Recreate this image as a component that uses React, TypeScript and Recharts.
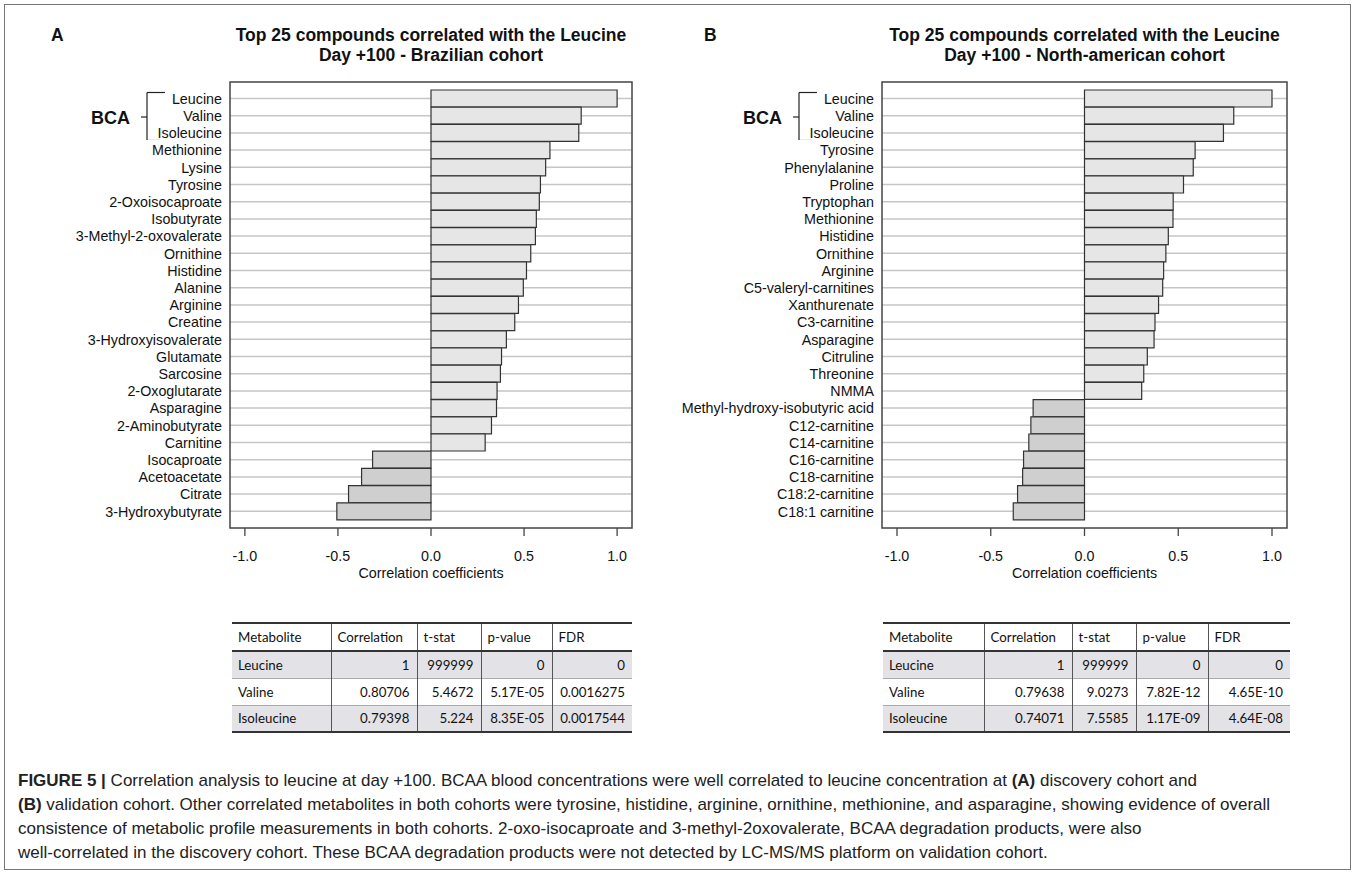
import React from "react";
import { BarChart, Bar, XAxis, YAxis, Cell } from "recharts";

const brazilNames = [
  "Leucine", "Valine", "Isoleucine", "Methionine", "Lysine", "Tyrosine",
  "2-Oxoisocaproate", "Isobutyrate", "3-Methyl-2-oxovalerate", "Ornithine",
  "Histidine", "Alanine", "Arginine", "Creatine", "3-Hydroxyisovalerate",
  "Glutamate", "Sarcosine", "2-Oxoglutarate", "Asparagine", "2-Aminobutyrate",
  "Carnitine", "Isocaproate", "Acetoacetate", "Citrate", "3-Hydroxybutyrate",
];
const brazilValues = [
  1.0, 0.807, 0.794, 0.639, 0.616, 0.588, 0.582, 0.566, 0.561, 0.536,
  0.513, 0.496, 0.47, 0.45, 0.405, 0.379, 0.373, 0.355, 0.352, 0.325,
  0.291, -0.314, -0.373, -0.443, -0.506,
];

const naNames = [
  "Leucine", "Valine", "Isoleucine", "Tyrosine", "Phenylalanine", "Proline",
  "Tryptophan", "Methionine", "Histidine", "Ornithine", "Arginine",
  "C5-valeryl-carnitines", "Xanthurenate", "C3-carnitine", "Asparagine",
  "Citruline", "Threonine", "NMMA", "Methyl-hydroxy-isobutyric acid",
  "C12-carnitine", "C14-carnitine", "C16-carnitine", "C18-carnitine",
  "C18:2-carnitine", "C18:1 carnitine",
];
const naValues = [
  1.0, 0.796, 0.741, 0.59, 0.58, 0.528, 0.473, 0.472, 0.447, 0.434, 0.422,
  0.417, 0.395, 0.376, 0.371, 0.335, 0.316, 0.305, -0.274, -0.286, -0.297,
  -0.325, -0.33, -0.357, -0.38,
];

const xTicks = [-1, -0.5, 0, 0.5, 1];

const tableHeader = ["Metabolite", "Correlation", "t-stat", "p-value", "FDR"];
const brazilTable = [
  ["Leucine", "1", "999999", "0", "0"],
  ["Valine", "0.80706", "5.4672", "5.17E-05", "0.0016275"],
  ["Isoleucine", "0.79398", "5.224", "8.35E-05", "0.0017544"],
];
const naTable = [
  ["Leucine", "1", "999999", "0", "0"],
  ["Valine", "0.79638", "9.0273", "7.82E-12", "4.65E-10"],
  ["Isoleucine", "0.74071", "7.5585", "1.17E-09", "4.64E-08"],
];

const FONT = "'Liberation Sans', Arial, Helvetica, sans-serif";
const DOMAIN: [number, number] = [-1.08, 1.08];
const AXIS = "#444";
const LABEL = 14.3;
const PLOT_TOP = 82;
const PLOT_H = 446;

// horizontal grid line through the middle of each category band
const gridLine = (p: any) => {
  if (p == null || p.y == null) return <g />;
  const cy = p.y + p.height / 2;
  return <line key={`g${p.index}`} x1={p.x} x2={p.x + p.width} y1={cy} y2={cy} stroke="#c6c6c6" strokeWidth={1.5} />;
};

function CorrChart({ names, values, left, width, yAxisWidth, marginRight }: {
  names: string[]; values: number[]; left: number; width: number; yAxisWidth: number; marginRight: number;
}) {
  const data = names.map((name, i) => ({ name, value: values[i] }));
  const plotW = width - yAxisWidth - marginRight;
  const renderTick = (p: any) => (
    <text x={p.x} y={p.y} dy="0.36em" textAnchor="end" fontSize={LABEL} fill="#111">
      {p.payload.value}
    </text>
  );
  return (
    <div style={{ position: "absolute", left, top: 0, fontFamily: FONT }}>
      <BarChart
        width={width}
        height={600}
        data={data}
        layout="vertical"
        barCategoryGap={0}
        margin={{ top: PLOT_TOP, right: marginRight, bottom: 0, left: 0 }}
      >
        <XAxis
          type="number"
          domain={DOMAIN}
          ticks={xTicks}
          allowDataOverflow
          tickFormatter={(v: number) => v.toFixed(1)}
          height={600 - PLOT_TOP - PLOT_H}
          tickSize={8}
          tickMargin={15}
          stroke={AXIS}
          strokeWidth={1.3}
          axisLine={false}
          tick={{ fontSize: LABEL, fill: "#111" }}
          label={{ value: "Correlation coefficients", position: "insideBottom", offset: 22, fontSize: LABEL, fill: "#111" }}
        />
        <YAxis
          type="category"
          dataKey="name"
          width={yAxisWidth}
          interval={0}
          tickLine={false}
          axisLine={false}
          padding={{ top: 8, bottom: 8 }}
          tick={renderTick}
        />
        <Bar dataKey="value" isAnimationActive={false} stroke="#333" strokeWidth={1.2} background={gridLine}>
          {data.map((d, i) => (
            <Cell key={i} fill={d.value >= 0 ? "#e6e6e6" : "#cfcfcf"} />
          ))}
        </Bar>
      </BarChart>
      {/* plot frame around the chart's plot area */}
      <svg width={width} height={600} style={{ position: "absolute", left: 0, top: 0, pointerEvents: "none" }}>
        <rect x={yAxisWidth} y={PLOT_TOP} width={plotW} height={PLOT_H} fill="none" stroke={AXIS} strokeWidth={1.5} />
      </svg>
    </div>
  );
}

function StatTable({ rows, left, widths }: { rows: string[][]; left: number; widths: number[] }) {
  const total = widths.reduce((a, b) => a + b, 0);
  const cell = (ci: number, extra: React.CSSProperties = {}): React.CSSProperties => ({
    padding: "0 7px",
    borderLeft: ci === 0 ? "none" : "1.2px solid #555",
    whiteSpace: "nowrap",
    ...extra,
  });
  return (
    <table
      style={{
        position: "absolute", left, top: 622, width: total, borderCollapse: "collapse",
        tableLayout: "fixed", fontFamily: "Lato, 'Open Sans', sans-serif", fontSize: 13.3, color: "#111",
      }}
    >
      <colgroup>
        {widths.map((w, i) => <col key={i} style={{ width: w }} />)}
      </colgroup>
      <tbody>
        <tr style={{ height: 28, borderTop: "2px solid #333", borderBottom: "2px solid #333" }}>
          {tableHeader.map((h, i) => (
            <td key={i} style={cell(i, { textAlign: "left", padding: "0 6px" })}>{h}</td>
          ))}
        </tr>
        {rows.map((r, ri) => (
          <tr
            key={ri}
            style={{
              height: 27,
              background: ri % 2 === 0 ? "#e3e3e7" : "#fff",
              borderBottom: ri === rows.length - 1 ? "2.5px solid #333" : "1.5px solid #aaa",
            }}
          >
            {r.map((v, ci) => (
              <td key={ci} style={cell(ci, { textAlign: ci === 0 ? "left" : "right", padding: ci === 0 ? "0 6px" : "0 7px" })}>{v}</td>
            ))}
          </tr>
        ))}
      </tbody>
    </table>
  );
}

function Bracket({ dx }: { dx: number }) {
  return (
    <g stroke="#222" strokeWidth={1.2} fill="none">
      <line x1={141 + dx} y1={117} x2={147 + dx} y2={117} />
      <line x1={147 + dx} y1={92.5} x2={147 + dx} y2={140.5} />
      <line x1={147 + dx} y1={92.5} x2={165 + dx} y2={92.5} />
      <line x1={147 + dx} y1={140.5} x2={160 + dx} y2={140.5} />
      <text x={91 + dx} y={123.5} stroke="none" fill="#111" fontSize={18} fontWeight="bold">BCA</text>
    </g>
  );
}

export default function App() {
  return (
    <div style={{ position: "absolute", left: 0, top: 0, width: 1357, height: 876, background: "#fff", fontFamily: FONT }}>
      <div style={{ position: "absolute", left: 4, top: 4, width: 1347, height: 866, border: "1px solid #777", boxSizing: "border-box" }} />
      <CorrChart names={brazilNames} values={brazilValues} left={0} width={660} yAxisWidth={230} marginRight={28} />
      <CorrChart names={naNames} values={naValues} left={660} width={697} yAxisWidth={222} marginRight={70} />
      <svg width={1357} height={140} style={{ position: "absolute", left: 0, top: 0, pointerEvents: "none", fontFamily: FONT }}>
        <text x={51} y={41} fontSize={17.5} fontWeight="bold" fill="#111">A</text>
        <text x={704} y={41} fontSize={17.5} fontWeight="bold" fill="#111">B</text>
        <text x={431} y={41} fontSize={17.5} fontWeight="bold" fill="#111" textAnchor="middle">Top 25 compounds correlated with the Leucine</text>
        <text x={431} y={61} fontSize={17.5} fontWeight="bold" fill="#111" textAnchor="middle">Day +100 - Brazilian cohort</text>
        <text x={1084.5} y={41} fontSize={17.5} fontWeight="bold" fill="#111" textAnchor="middle">Top 25 compounds correlated with the Leucine</text>
        <text x={1084.5} y={61} fontSize={17.5} fontWeight="bold" fill="#111" textAnchor="middle">Day +100 - North-american cohort</text>
        <Bracket dx={0} />
        <Bracket dx={652} />
      </svg>
      <StatTable rows={brazilTable} left={232} widths={[99, 86, 64, 71, 80]} />
      <StatTable rows={naTable} left={883} widths={[101, 88, 64, 72, 82]} />
      <div
        style={{
          position: "absolute", left: 18, top: 769, fontSize: 17, lineHeight: "24px",
          color: "#222", whiteSpace: "nowrap", fontFamily: FONT,
        }}
      >
        <b>FIGURE 5 |</b> Correlation analysis to leucine at day +100. BCAA blood concentrations were well correlated to leucine concentration at <b>(A)</b> discovery cohort and
        <br />
        <b>(B)</b> validation cohort. Other correlated metabolites in both cohorts were tyrosine, histidine, arginine, ornithine, methionine, and asparagine, showing evidence of overall
        <br />
        consistence of metabolic profile measurements in both cohorts. 2-oxo-isocaproate and 3-methyl-2oxovalerate, BCAA degradation products, were also
        <br />
        well-correlated in the discovery cohort. These BCAA degradation products were not detected by LC-MS/MS platform on validation cohort.
      </div>
    </div>
  );
}
